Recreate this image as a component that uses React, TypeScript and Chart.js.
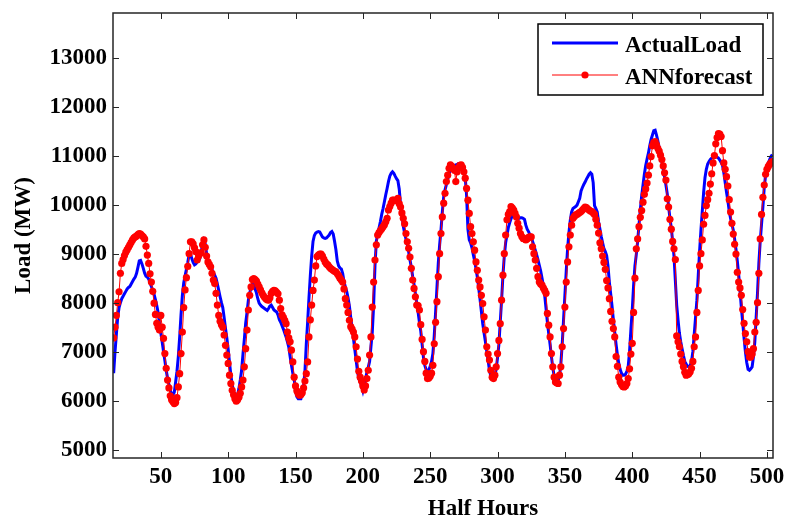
import React, { useEffect, useRef } from "react";
import { Chart, registerables } from "chart.js";

Chart.register(...registerables);

// Half-hour index of the first value in each series
const X_START = 15;

const actualLoad = [
  6560, 7000, 7350, 7700, 7900, 8000, 8080, 8130, 8180, 8230,
  8280, 8310, 8330, 8380, 8430, 8480, 8520, 8600, 8720, 8850,
  8860, 8790, 8700, 8600, 8540, 8520, 8480, 8400, 8330, 8260,
  8170, 8060, 7940, 7800, 7580, 7380, 7200, 7000, 6820, 6620,
  6460, 6330, 6220, 6140, 6120, 6170, 6380, 6600, 6900, 7300,
  7750, 8150, 8400, 8550, 8680, 8820, 8980, 9000, 8900, 8820,
  8770, 8790, 8830, 8860, 8900, 9050, 9180, 9270, 9200, 9000,
  8850, 8800, 8750, 8680, 8610, 8560, 8500, 8380, 8250, 8120,
  8000, 7900, 7700, 7480, 7280, 7050, 6780, 6520, 6330, 6190,
  6110, 6060, 6120, 6250, 6420, 6620, 6950, 7250, 7580, 7800,
  8050, 8200, 8300, 8380, 8360, 8280, 8200, 8080, 7990, 7950,
  7920, 7900, 7880, 7860, 7840, 7880, 7930, 7950, 7900, 7850,
  7830, 7810, 7750, 7650, 7600, 7530, 7460, 7380, 7300, 7200,
  7090, 6900, 6720, 6560, 6440, 6200, 6080, 6040, 6040, 6040,
  6150, 6300, 6600, 7150, 7600, 8100, 8550, 8950, 9250, 9370,
  9420, 9440, 9450, 9440, 9390, 9340, 9320, 9310, 9320, 9350,
  9380, 9430, 9450, 9400, 9250, 9080, 8850, 8750, 8710, 8690,
  8600, 8430, 8320, 8230, 8100, 7930, 7700, 7480, 7270, 7050,
  6830, 6600, 6450, 6380, 6300, 6200, 6320, 6450, 6580, 6680,
  6800, 7100, 7400, 7950, 8750, 9250, 9400, 9520, 9650, 9800,
  9920, 10060, 10200, 10330, 10470, 10580, 10640, 10670, 10640, 10580,
  10530, 10490, 10320, 10000, 9800, 9560, 9420, 9300, 9180, 9040,
  8870, 8720, 8530, 8370, 8180, 7990, 7810, 7600, 7420, 7150,
  6880, 6720, 6630, 6600, 6630, 6700, 6800, 6960, 7320, 7800,
  8300, 8800, 9180, 9480, 9850, 10150, 10300, 10410, 10520, 10620,
  10700, 10750, 10780, 10800, 10810, 10820, 10840, 10840, 10820, 10780,
  10700, 10550, 10200, 9500, 9280, 9220, 9120, 8980, 8850, 8690,
  8520, 8300, 8070, 7820, 7570, 7380, 7200, 7000, 6820, 6620,
  6500, 6430, 6420, 6500, 6650, 6880, 7150, 7600, 8050, 8550,
  8950, 9220, 9380, 9530, 9630, 9710, 9780, 9790, 9750, 9720,
  9710, 9720, 9730, 9730, 9720, 9700, 9580, 9500, 9450, 9390,
  9340, 9250, 9160, 9070, 8980, 8880, 8760, 8650, 8500, 8350,
  8150, 7880, 7600, 7370, 7150, 6900, 6680, 6500, 6400, 6380,
  6420, 6490, 6750, 7150, 7650, 8150, 8650, 9100, 9430, 9680,
  9850, 9920, 9940, 9960, 9990, 10060, 10130, 10280, 10350, 10410,
  10460, 10520, 10570, 10620, 10650, 10620, 10450, 9980, 9920, 9850,
  9650, 9500, 9350, 9220, 9100, 9040, 8960, 8750, 8420, 8180,
  7930, 7650, 7400, 7150, 6930, 6760, 6640, 6560, 6520, 6520,
  6540, 6600, 6700, 7000, 7450, 7850, 8350, 8750, 8980, 9250,
  9580, 9900, 10180, 10400, 10620, 10800, 10930, 11050, 11200, 11330,
  11420, 11510, 11520, 11420, 11300, 11160, 11030, 10880, 10720, 10560,
  10400, 10220, 9960, 9720, 9520, 9250, 8950, 8450, 7950, 7650,
  7380, 7200, 7060, 6920, 6800, 6750, 6700, 6690, 6720, 6800,
  7000, 7350, 7700, 8050, 8550, 9050, 9480, 9870, 10250, 10550,
  10720, 10830, 10880, 10920, 10950, 10970, 10980, 10980, 10970, 10950,
  10910, 10860, 10800, 10650, 10450, 10250, 10080, 9870, 9720, 9600,
  9480, 9300, 9090, 8850, 8580, 8250, 7900, 7600, 7280, 7000,
  6780, 6640, 6620, 6650, 6690, 6900, 7200, 7700, 8200, 8800,
  9250, 9600, 9950, 10350, 10600, 10760, 10850, 10920, 10980, 11020,
];

const annForecast = [
  7280, 7500, 7740, 8000, 8220, 8600, 8800, 8880, 8960, 9030,
  9080, 9130, 9180, 9230, 9280, 9320, 9340, 9360, 9390, 9410,
  9400, 9370, 9340, 9300, 9150, 8970, 8800, 8590, 8420, 8230,
  7990, 7760, 7580, 7500, 7440, 7740, 7500, 7270, 6960, 6660,
  6420, 6260, 6100, 6020, 5980, 5940, 5960, 6060, 6280, 6550,
  6960, 7400, 7900, 8260, 8510, 8740, 9000, 9240, 9240, 9200,
  9120, 9040, 8870, 8950, 9000, 9020, 9180, 9280, 9130, 8950,
  8830, 8780, 8730, 8600, 8460, 8390, 8190, 7950, 7740, 7620,
  7550, 7500, 7340, 7130, 6930, 6760, 6520, 6350, 6210, 6120,
  6040, 5990, 6020, 6070, 6150, 6280, 6420, 6690, 7060, 7440,
  7850, 8150, 8320, 8470, 8490, 8470, 8440, 8380, 8320, 8260,
  8200, 8150, 8110, 8080, 8060, 8050, 8100, 8190, 8230, 8250,
  8240, 8210, 8180, 8050, 7880, 7750, 7700, 7640, 7570, 7400,
  7280, 7200, 7030, 6790, 6480, 6300, 6200, 6140, 6110, 6120,
  6160, 6260, 6400, 6550, 6790, 7300, 7650, 7950, 8250, 8460,
  8750, 8940, 8970, 8990, 8990, 8950, 8890, 8830, 8790, 8770,
  8730, 8700, 8680, 8660, 8640, 8630, 8590, 8550, 8500, 8460,
  8420, 8280, 8080, 7950, 7800, 7640, 7510, 7460, 7400, 7300,
  7100, 6850, 6600, 6480, 6400, 6300, 6220, 6300, 6450, 6620,
  6930, 7300, 7910, 8420, 8870, 9180, 9380, 9430, 9470, 9510,
  9550, 9590, 9650, 9720, 9890, 9960, 10030, 10090, 10090, 10080,
  10090, 10130, 10020, 9950, 9830, 9720, 9610, 9410, 9240, 9110,
  8930, 8700, 8460, 8290, 8120, 7950, 7940, 7850, 7550, 7250,
  7000, 6800, 6560, 6450, 6460, 6500, 6560, 6720, 7160, 7600,
  8020, 8530, 9000, 9410, 9750, 10030, 10230, 10470, 10600, 10740,
  10810, 10780, 10740, 10700, 10470, 10670, 10750, 10800, 10810, 10760,
  10670, 10540, 10330, 10090, 9820, 9550, 9410, 9240, 9070, 8830,
  8660, 8460, 8320, 8150, 7980, 7710, 7440, 7100, 6950, 6830,
  6620, 6480, 6450, 6520, 6690, 6960, 7230, 7570, 8050, 8560,
  9000, 9380, 9690, 9800, 9860, 9960, 9930, 9890, 9820, 9750,
  9620, 9520, 9410, 9350, 9310, 9300, 9280, 9300, 9330, 9340,
  9340, 9140, 9000, 8870, 8700, 8530, 8420, 8380, 8360, 8300,
  8250, 8190, 7780, 7540, 7300, 6960, 6690, 6480, 6380, 6360,
  6350, 6520, 6690, 7100, 7470, 7910, 8420, 8830, 9140, 9380,
  9580, 9720, 9760, 9790, 9800, 9820, 9840, 9860, 9890, 9920,
  9950, 9940, 9910, 9890, 9870, 9860, 9830, 9800, 9700, 9580,
  9420, 9220, 9100, 8950, 8820, 8680, 8450, 8300, 8080, 7820,
  7620, 7470, 7300, 6900, 6700, 6480, 6380, 6330, 6290, 6280,
  6300, 6350, 6450, 6650, 6950, 7170, 7800, 8500, 9100, 9300,
  9550, 9740, 9880, 10050, 10210, 10320, 10440, 10600, 10790, 10980,
  11200, 11270, 11285, 11220, 11150, 11090, 11010, 10920, 10790, 10650,
  10500, 10120, 9950, 9700, 9500, 9250, 9100, 8880, 7320, 7200,
  7100, 6950, 6800, 6690, 6580, 6520, 6530, 6550, 6590, 6660,
  6800, 7100, 7300, 7800, 8250, 8750, 9000, 9280, 9600, 9780,
  9980, 10100, 10230, 10420, 10630, 10850, 11000, 11240, 11370, 11450,
  11440, 11390, 11100, 10850, 10720, 10570, 10380, 10100, 9850, 9620,
  9400, 9190, 8990, 8620, 8420, 8300, 8150, 7860, 7580, 7370,
  7200, 7000, 6890, 6890, 6950, 7060, 7400, 7600, 8000, 8600,
  9300, 9800, 10150, 10400, 10620, 10720, 10780, 10820, 10850, 10880,
];

const xTickValues = [50, 100, 150, 200, 250, 300, 350, 400, 450, 500];
const yTickValues = [5000, 6000, 7000, 8000, 9000, 10000, 11000, 12000, 13000];

const X_MIN = 14.5;
const X_MAX = 504.5;
const Y_MIN = 4830;
const Y_MAX = 13910;

const seriesNames = ["ActualLoad", "ANNforecast"];
const xTitle = "Half Hours";
const yTitle = "Load (MW)";

const FONT_FAMILY = '"Liberation Serif", "Times New Roman", serif';
const AXIS_COLOR = "#262626";

const framePlugin = {
  id: "matlabFrame",
  afterDraw(chart: any) {
    const { ctx, chartArea: a, scales } = chart;
    ctx.save();
    ctx.strokeStyle = AXIS_COLOR;
    ctx.lineWidth = 1.5;
    ctx.strokeRect(a.left, a.top, a.right - a.left, a.bottom - a.top);
    const L = 6;
    ctx.beginPath();
    for (const v of xTickValues) {
      const px = Math.round(scales.x.getPixelForValue(v)) + 0.5;
      ctx.moveTo(px, a.bottom);
      ctx.lineTo(px, a.bottom - L);
      ctx.moveTo(px, a.top);
      ctx.lineTo(px, a.top + L);
    }
    for (const v of yTickValues) {
      const py = Math.round(scales.y.getPixelForValue(v)) + 0.5;
      ctx.moveTo(a.left, py);
      ctx.lineTo(a.left + L, py);
      ctx.moveTo(a.right, py);
      ctx.lineTo(a.right - L, py);
    }
    ctx.lineWidth = 1;
    ctx.stroke();

    ctx.fillStyle = "#000";
    ctx.font = `bold 23px ${FONT_FAMILY}`;
    ctx.textAlign = "center";
    ctx.textBaseline = "alphabetic";
    ctx.fillText(xTitle, 483, 515);
    ctx.save();
    ctx.translate(30, (a.top + a.bottom) / 2);
    ctx.rotate(-Math.PI / 2);
    ctx.fillText(yTitle, 0, 0);
    ctx.restore();

    const bx = a.right - 235;
    const by = a.top + 11;
    const bw = 225;
    const bh = 71;
    ctx.fillStyle = "#fff";
    ctx.fillRect(bx, by, bw, bh);
    ctx.strokeStyle = "#000";
    ctx.lineWidth = 1.5;
    ctx.strokeRect(bx, by, bw, bh);

    const ds = chart.data.datasets;
    const rows = [by + 19, by + 51];
    const order = [1, 0];
    order.forEach((di: number, r: number) => {
      const d = ds[di];
      const y = rows[r];
      ctx.strokeStyle = d.borderColor;
      ctx.lineWidth = d.borderWidth;
      ctx.beginPath();
      ctx.moveTo(bx + 14, y);
      ctx.lineTo(bx + 80, y);
      ctx.stroke();
      if (d.pointRadius > 0) {
        ctx.fillStyle = d.pointBackgroundColor;
        ctx.beginPath();
        ctx.arc(bx + 47, y, d.pointRadius, 0, Math.PI * 2);
        ctx.fill();
      }
      ctx.fillStyle = "#000";
      ctx.font = `bold 23px ${FONT_FAMILY}`;
      ctx.textAlign = "left";
      ctx.textBaseline = "alphabetic";
      ctx.fillText(d.label, bx + 87, y + 8.5);
    });
    ctx.restore();
  },
};

export default function App() {
  const canvasRef = useRef<HTMLCanvasElement | null>(null);

  useEffect(() => {
    const canvas = canvasRef.current;
    if (!canvas) return;
    const tickFont = { family: FONT_FAMILY, size: 23, weight: "bold" as const };
    const chart = new Chart(canvas, {
      type: "line",
      data: {
        datasets: [
          {
            label: seriesNames[1],
            data: annForecast.map((y, i) => ({ x: X_START + i, y })),
            borderColor: "#ff0000",
            backgroundColor: "#ff0000",
            borderWidth: 1,
            pointRadius: 3.6,
            pointBackgroundColor: "#ff0000",
            pointBorderWidth: 0,
            pointHoverRadius: 3.6,
            tension: 0,
            order: 0,
          },
          {
            label: seriesNames[0],
            data: actualLoad.map((y, i) => ({ x: X_START + i, y })),
            borderColor: "#0000ff",
            backgroundColor: "#0000ff",
            borderWidth: 3,
            pointRadius: 0,
            tension: 0,
            order: 1,
          },
        ],
      },
      options: {
        animation: false,
        responsive: false,
        devicePixelRatio: 1,
        layout: { padding: { top: 13, right: 14, left: 0, bottom: 0 } },
        plugins: {
          legend: { display: false },
          tooltip: { enabled: false },
          title: { display: false },
        },
        scales: {
          x: {
            type: "linear",
            min: X_MIN,
            max: X_MAX,
            grid: { display: false, drawTicks: false, tickLength: 0 },
            border: { display: false },
            ticks: {
              font: tickFont,
              color: "#000",
              padding: 5,
              autoSkip: false,
              maxRotation: 0,
              callback: (v: any) => String(v),
            },
            afterBuildTicks: (s: any) => {
              s.ticks = xTickValues.map((v) => ({ value: v }));
            },
            afterFit: (s: any) => {
              s.height = 63;
              s.paddingLeft = 0;
              s.paddingRight = 0;
            },
          },
          y: {
            type: "linear",
            min: Y_MIN,
            max: Y_MAX,
            grid: { display: false, drawTicks: false, tickLength: 0 },
            border: { display: false },
            ticks: {
              font: tickFont,
              color: "#000",
              padding: 6,
              autoSkip: false,
              callback: (v: any) => String(v),
            },
            afterBuildTicks: (s: any) => {
              s.ticks = yTickValues.map((v) => ({ value: v }));
            },
            afterFit: (s: any) => {
              s.width = 113;
              s.paddingTop = 0;
              s.paddingBottom = 0;
            },
          },
        },
      },
      plugins: [framePlugin],
    });
    return () => chart.destroy();
  }, []);

  return (
    <div style={{ position: "absolute", left: 0, top: 0, width: 787, height: 521, background: "#fff" }}>
      <canvas ref={canvasRef} width={787} height={521} style={{ display: "block" }} />
    </div>
  );
}
